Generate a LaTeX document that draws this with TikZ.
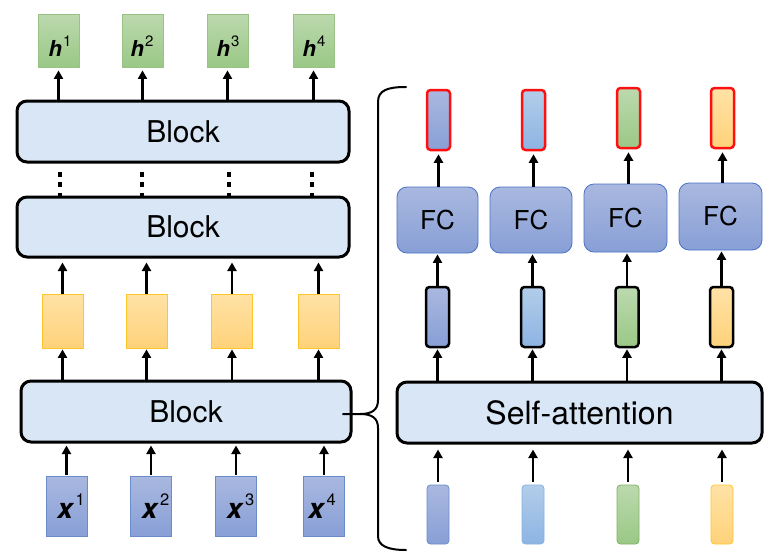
\documentclass[tikz,border=0pt]{standalone}
\usepackage{fontspec}
\setmainfont{TeX Gyre Heros}
\usetikzlibrary{arrows.meta,calc}
\definecolor{blkfill}{HTML}{D8E6F5}
\definecolor{bluetop}{HTML}{A9B8DF}
\definecolor{bluebot}{HTML}{889FD6}
\definecolor{blueedge}{HTML}{6A8CCB}
\definecolor{fcedge}{HTML}{4A72C4}
\definecolor{lbtop}{HTML}{B2CDE9}
\definecolor{lbbot}{HTML}{8DB4E3}
\definecolor{lbedge}{HTML}{86B2E2}
\definecolor{grtop}{HTML}{BCD9AE}
\definecolor{grbot}{HTML}{9AC886}
\definecolor{gredge}{HTML}{82B366}
\definecolor{ortop}{HTML}{FFE2A6}
\definecolor{orbot}{HTML}{FFD27A}
\definecolor{oredge}{HTML}{FFC62A}
\definecolor{redge}{HTML}{FF1010}
\tikzset{
  blockbox/.style={draw=black, line width=3pt, rounded corners=10pt, fill=blkfill, inner sep=0pt},
  bluefill/.style={top color=bluetop, bottom color=bluebot},
  lbfill/.style={top color=lbtop, bottom color=lbbot},
  grfill/.style={top color=grtop, bottom color=grbot},
  orfill/.style={top color=ortop, bottom color=orbot},
  hbox/.style={grfill, draw=gredge!80, line width=0.8pt, minimum width=41pt, minimum height=53pt, inner sep=0pt},
  obox/.style={orfill, draw=oredge, line width=0.8pt, minimum width=41pt, minimum height=54pt, inner sep=0pt},
  xbox/.style={bluefill, draw=blueedge, line width=0.8pt, minimum width=41pt, minimum height=60pt, inner sep=0pt},
  fcbox/.style={bluefill, draw=fcedge, line width=0.8pt, rounded corners=10pt, inner sep=0pt, font=\fontsize{26}{26}\selectfont},
  narrowbox/.style={line width=2.5pt, rounded corners=3.5pt, minimum width=23pt, minimum height=60pt, inner sep=0pt},
  redbox/.style={narrowbox, draw=redge},
  midbox/.style={narrowbox, draw=black},
  inbox/.style={line width=0.8pt, rounded corners=3.5pt, minimum width=22pt, minimum height=59pt, inner sep=0pt},
  arr/.style={line width=2.8pt, -{Triangle[width=9pt,length=8.5pt]}},
  dots/.style={line width=3.6pt, dash pattern=on 5pt off 5.5pt},
  brace/.style={line width=2pt},
  blk/.style={font=\fontsize{30}{30}\selectfont},
  hlab/.style={anchor=base, inner sep=0pt, font=\fontsize{22}{22}\selectfont},
  xlab/.style={anchor=base, inner sep=0pt, font=\fontsize{28}{28}\selectfont},
}
\newcommand{\hl}[2]{\textbf{\textit{#1}}\kern1.2pt\raisebox{10pt}{\fontsize{15}{15}\selectfont #2}}
\newcommand{\xl}[2]{\textbf{\textit{#1}}\kern1.2pt\raisebox{13pt}{\fontsize{16.5}{16.5}\selectfont #2}}
\begin{document}
\begin{tikzpicture}[x=1pt,y=-1pt]
\useasboundingbox (0,0) rectangle (782,557);
% left column
\node[hbox] (h1) at (58.5,40.5) {};
\node[hbox] (h2) at (142.5,40.5) {};
\node[hbox] (h3) at (227.5,40.5) {};
\node[hbox] (h4) at (313.5,40.5) {};
\node[hlab] (hl1) at (60,56) {\hl{h}{1}};
\node[hlab] (hl2) at (142,56) {\hl{h}{2}};
\node[hlab] (hl3) at (228,56) {\hl{h}{3}};
\node[hlab] (hl4) at (314,56) {\hl{h}{4}};
\node[blockbox, blk, minimum width=332pt, minimum height=61pt] (b1) at (183,131.5) {Block};
\node[blockbox, blk, minimum width=332pt, minimum height=60pt] (b2) at (183,227) {Block};
\node[obox] (o1) at (62.5,321) {};
\node[obox] (o2) at (146.5,321) {};
\node[obox] (o3) at (232,321) {};
\node[obox] (o4) at (318.5,321) {};
\node[blockbox, blk, minimum width=330pt, minimum height=61pt] (b3) at (186,411.5) {Block};
\node[xbox] (x1) at (66.5,506) {};
\node[xbox] (x2) at (151,506) {};
\node[xbox] (x3) at (236,506) {};
\node[xbox] (x4) at (324,506) {};
\node[xlab] (xl1) at (71,518) {\xl{x}{1}};
\node[xlab] (xl2) at (155.5,518) {\xl{x}{2}};
\node[xlab] (xl3) at (240.5,518) {\xl{x}{3}};
\node[xlab] (xl4) at (322,518) {\xl{x}{4}};
% left arrows
\foreach \i in {1,2,3,4}{
  \draw[arr, shorten >=3pt] (b1.north -| h\i) -- (h\i.south);
  \draw[arr, shorten >=4pt] (o\i.north) -- (b2.south -| o\i);
  \draw[arr, shorten >=1pt] (b3.north -| o\i) -- (o\i.south);
  \draw[arr, shorten <=1pt, shorten >=2pt] (x\i.north) -- (b3.south -| x\i);
}
\coordinate (d1) at (60,0);
\coordinate (d2) at (142,0);
\coordinate (d3) at (229,0);
\coordinate (d4) at (312,0);
\foreach \i in {1,2,3,4}{
  \draw[dots, shorten <=8pt] (b1.south -| d\i) -- (b2.north -| d\i);
}
% brace
\draw[brace, line cap=round] (406,87) .. controls (388,87) and (378,90) .. (378,102) -- (378,400)
  .. controls (378,410) and (372,414) .. (360,414) -- (343,414);
\draw[brace, line cap=round] (360,414) .. controls (372,414) and (378,418) .. (378,428) -- (378,536)
  .. controls (378,546) and (388,550) .. (406,550);
% right column
\node[redbox, bluefill] (r1) at (438.5,120) {};
\node[redbox, lbfill] (r2) at (533.5,120) {};
\node[redbox, grfill] (r3) at (628.5,118) {};
\node[redbox, orfill] (r4) at (722.5,118) {};
\node[fcbox, minimum width=81pt, minimum height=66pt] (f1) at (437.5,220) {FC};
\node[fcbox, minimum width=82pt, minimum height=66pt] (f2) at (531,220) {FC};
\node[fcbox, minimum width=83pt, minimum height=68pt] (f3) at (625.5,218) {FC};
\node[fcbox, minimum width=83pt, minimum height=67pt] (f4) at (720.5,216.5) {FC};
\node[midbox, bluefill] (m1) at (437.5,317) {};
\node[midbox, lbfill] (m2) at (532.5,317) {};
\node[midbox, grfill] (m3) at (627,317) {};
\node[midbox, orfill] (m4) at (721.5,317) {};
\node[blockbox, font=\fontsize{32}{32}\selectfont, minimum width=365pt, minimum height=61pt] (sa) at (579.5,412.5) {Self-attention};
\node[inbox, bluefill, draw=blueedge] (i1) at (438,514.5) {};
\node[inbox, lbfill, draw=lbedge] (i2) at (533,514.5) {};
\node[inbox, grfill, draw=gredge] (i3) at (628,514.5) {};
\node[inbox, orfill, draw=oredge] (i4) at (722,514.5) {};
\foreach \i in {1,2,3,4}{
  \draw[arr, shorten >=3pt] (f\i.north -| r\i) -- (r\i.south);
  \draw[arr, shorten >=1pt] (m\i.north) -- (f\i.south -| m\i);
  \draw[arr, shorten >=1pt] (sa.north -| m\i) -- (m\i.south);
  \draw[arr, shorten <=3pt, shorten >=5pt] (i\i.north) -- (sa.south -| i\i);
}
\end{tikzpicture}
\end{document}
